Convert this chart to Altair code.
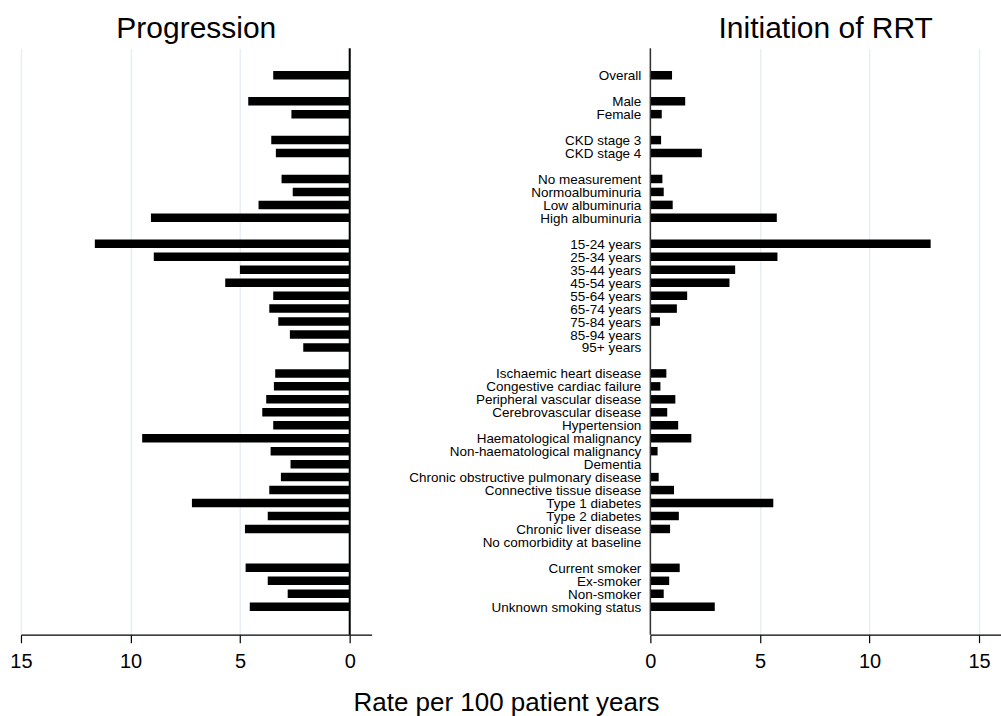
import altair as alt
import pandas as pd

categories = [
    "Overall", None,
    "Male", "Female", None,
    "CKD stage 3", "CKD stage 4", None,
    "No measurement", "Normoalbuminuria", "Low albuminuria", "High albuminuria", None,
    "15-24 years", "25-34 years", "35-44 years", "45-54 years", "55-64 years",
    "65-74 years", "75-84 years", "85-94 years", "95+ years", None,
    "Ischaemic heart disease", "Congestive cardiac failure", "Peripheral vascular disease",
    "Cerebrovascular disease", "Hypertension", "Haematological malignancy",
    "Non-haematological malignancy", "Dementia", "Chronic obstructive pulmonary disease",
    "Connective tissue disease", "Type 1 diabetes", "Type 2 diabetes",
    "Chronic liver disease", "No comorbidity at baseline", None,
    "Current smoker", "Ex-smoker", "Non-smoker", "Unknown smoking status",
]

progression = [
    3.49, None,
    4.63, 2.66, None,
    3.58, 3.37, None,
    3.11, 2.60, 4.16, 9.07, None,
    11.63, 8.94, 5.01, 5.68, 3.49, 3.67, 3.26, 2.73, 2.12, None,
    3.40, 3.46, 3.81, 3.99, 3.49, 9.47, 3.61, 2.70, 3.14, 3.67, 7.20, 3.74, 4.78, None, None,
    4.75, 3.74, 2.83, 4.56,
]

rrt = [
    0.99, None,
    1.59, 0.52, None,
    0.49, 2.35, None,
    0.55, 0.61, 1.02, 5.77, None,
    12.79, 5.80, 3.87, 3.61, 1.68, 1.21, 0.44, None, None, None,
    0.73, 0.46, 1.14, 0.77, 1.27, 1.87, 0.33, None, 0.38, 1.08, 5.61, 1.30, 0.90, None, None,
    1.34, 0.86, 0.61, 2.94,
]

panel_titles = ["Progression", "Initiation of RRT"]
axis_title = ["Rate per 100 patient years"]
tick_values = [0, 5, 10, 15]

df = pd.DataFrame({"row": list(range(len(categories))), "label": categories,
                   "prog": progression, "rrt": rrt})
df_prog = df.dropna(subset=["prog"])
df_rrt = df.dropna(subset=["rrt"])
df_lab = df.dropna(subset=["label"])

W = 351
H = 587
FONT = "Liberation Sans"

yenc = alt.Y("row:Q", scale=alt.Scale(domain=[-2.08, 43.16], reverse=True, nice=False,
                                      zero=False, padding=0), axis=None)

axis_common = dict(values=tick_values, format="d", tickSize=8, labelFontSize=20, labelFont=FONT,
                   labelColor="black", domainColor="black", tickColor="black", domainWidth=1.2,
                   tickWidth=1.2, grid=True, gridColor="#e6eff1", gridWidth=1.5, title=None,
                   labelPadding=9, labelFlush=False)

left_scale = alt.Scale(domain=[-1, 15], reverse=True, nice=False, zero=False, padding=0)
right_scale = alt.Scale(domain=[0, 16], nice=False, zero=False, padding=0)

left_bars = alt.Chart(df_prog).mark_bar(color="black", size=8.5, orient="horizontal").encode(
    x=alt.X("prog:Q", scale=left_scale, axis=alt.Axis(**axis_common)),
    x2=alt.datum(0),
    y=yenc,
)
left_zero = alt.Chart(pd.DataFrame({"z": [0]})).mark_rule(color="black", strokeWidth=2).encode(
    x=alt.X("z:Q", scale=left_scale)
)
left_title = alt.Chart(pd.DataFrame({"t": panel_titles[:1]})).mark_text(
    fontSize=30, font=FONT, baseline="alphabetic", align="center", color="black"
).encode(x=alt.value(W / 2), y=alt.value(-10), text="t:N")

left = alt.layer(left_bars, left_zero, left_title).properties(width=W, height=H)

right_bars = alt.Chart(df_rrt).mark_bar(color="black", size=8.5, orient="horizontal").encode(
    x=alt.X("rrt:Q", scale=right_scale, axis=alt.Axis(**axis_common)),
    x2=alt.datum(0),
    y=yenc,
)
right_zero = alt.Chart(pd.DataFrame({"z": [0]})).mark_rule(color="#333333", strokeWidth=1.5).encode(
    x=alt.X("z:Q", scale=right_scale)
)
labels = alt.Chart(df_lab).mark_text(
    align="right", baseline="middle", fontSize=13.5, font=FONT, color="black", dx=-9, dy=1
).encode(x=alt.value(0), y=yenc, text="label:N")
right_title = alt.Chart(pd.DataFrame({"t": panel_titles[1:]})).mark_text(
    fontSize=30, font=FONT, baseline="alphabetic", align="center", color="black"
).encode(x=alt.value(W / 2), y=alt.value(-10), text="t:N")
xtitle = alt.Chart(pd.DataFrame({"t": axis_title})).mark_text(
    fontSize=26, font=FONT, baseline="alphabetic", align="center", color="black"
).encode(x=alt.value(-144), y=alt.value(663), text="t:N")

right = alt.layer(right_bars, right_zero, labels, right_title, xtitle).properties(width=W, height=H)

chart = alt.hconcat(left, right, spacing=279, bounds="flush").properties(
    padding={"left": 9, "top": 14, "right": 0, "bottom": 0},
    background="white",
).configure_view(stroke=None)

chart.save("out.html", embed_options={"renderer": "svg", "actions": False})
